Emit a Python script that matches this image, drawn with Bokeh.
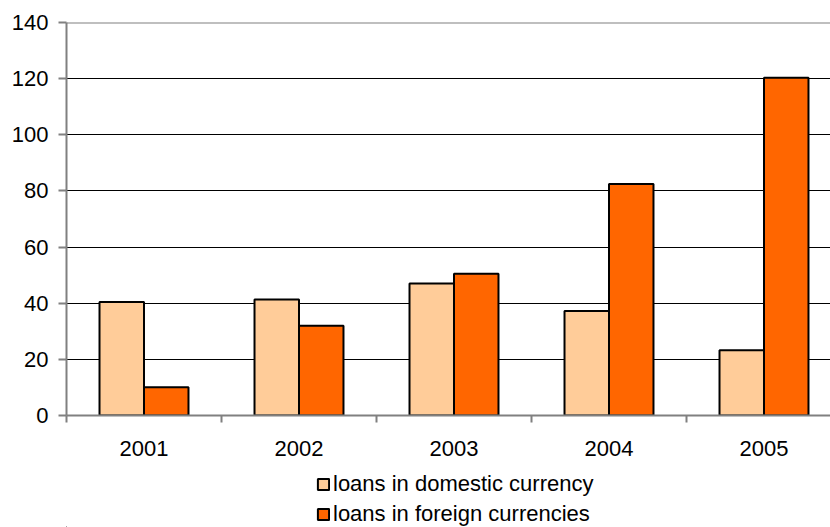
import numpy as np
from bokeh.plotting import figure
from bokeh.layouts import column
from bokeh.models import (ColumnDataSource, Range1d, FixedTicker, Legend, LegendItem, Span)
from bokeh.transform import dodge
from bokeh.embed import file_html
from bokeh.resources import INLINE

years = ["2001", "2002", "2003", "2004", "2005"]
domestic = [40.4, 41.3, 47.0, 37.2, 23.2]
foreign = [10.1, 32.0, 50.5, 82.5, 120.3]
y_ticks = [0, 20, 40, 60, 80, 100, 120, 140]
labels = ["loans in domestic currency", "loans in foreign currencies"]

FONT = "Liberation Sans"
FS = "22px"
C_DOM = "#FFCC99"
C_FOR = "#FF6600"

xs = list(range(1, len(years) + 1))
src = ColumnDataSource(dict(x=xs, domestic=domestic, foreign=foreign))

W = 830
H1 = 465
left, top, bottom = 66, 22, 50
cat_px = 155.0
frame_w = W - left
x_end = 0.5 + frame_w / cat_px

p = figure(width=W, height=H1, output_backend="svg", toolbar_location=None,
           x_range=Range1d(0.5, x_end), y_range=Range1d(0, 140),
           min_border_left=left, min_border_right=0, min_border_top=top,
           min_border_bottom=bottom)
p.outline_line_color = None
p.background_fill_color = "white"
p.border_fill_color = "white"

bw = 0.287
r1 = p.vbar(x=dodge("x", -bw / 2, range=p.x_range), top="domestic", width=bw, source=src,
            fill_color=C_DOM, line_color="black", line_width=2)
r2 = p.vbar(x=dodge("x", bw / 2, range=p.x_range), top="foreign", width=bw, source=src,
            fill_color=C_FOR, line_color="black", line_width=2)

# grid
p.xgrid.visible = False
p.ygrid.ticker = FixedTicker(ticks=y_ticks[1:-1])
p.ygrid.grid_line_color = "black"
p.ygrid.grid_line_width = 1
p.ygrid.level = "underlay"
p.add_layout(Span(location=y_ticks[-1], dimension="width", line_color="#808080",
                  line_width=2, level="underlay"))

# y axis
ya = p.yaxis[0]
ya.ticker = FixedTicker(ticks=y_ticks)
ya.axis_line_color = "#808080"
ya.axis_line_width = 2
ya.major_tick_line_color = "#808080"
ya.major_tick_line_width = 2
ya.major_tick_out = 8
ya.major_tick_in = 0
ya.minor_tick_line_color = None
ya.major_label_text_font = FONT
ya.major_label_text_font_size = FS
ya.major_label_text_color = "black"
ya.major_label_standoff = 10

# x axis
xa = p.xaxis[0]
xa.ticker = FixedTicker(ticks=xs, minor_ticks=[x - 0.5 for x in xs] + [xs[-1] + 0.5])
xa.major_label_overrides = {x: y for x, y in zip(xs, years)}
xa.axis_line_color = "#808080"
xa.axis_line_width = 2
xa.major_tick_out = 0
xa.major_tick_in = 0
xa.major_tick_line_color = None
xa.minor_tick_line_color = "#808080"
xa.minor_tick_line_width = 2
xa.minor_tick_out = 7
xa.minor_tick_in = 0
xa.major_label_text_font = FONT
xa.major_label_text_font_size = FS
xa.major_label_text_color = "black"
xa.major_label_standoff = 18

# legend figure (legend swatches reuse the bar styling; their data lies off-range)
p2 = figure(width=W, height=62, output_backend="svg", toolbar_location=None,
            x_range=Range1d(0, 1), y_range=Range1d(0, 1),
            x_axis_location=None, y_axis_location=None,
            min_border_left=0, min_border_right=0, min_border_top=0, min_border_bottom=0)
p2.grid.visible = False
p2.outline_line_color = None
dummy = ColumnDataSource(dict(x=[-10.0], top=[-10.0]))
l1 = p2.vbar(x="x", top="top", width=0.1, source=dummy, fill_color=C_DOM,
             line_color="black", line_width=2)
l2 = p2.vbar(x="x", top="top", width=0.1, source=dummy, fill_color=C_FOR,
             line_color="black", line_width=2)

legend = Legend(items=[LegendItem(label=labels[0], renderers=[l1]),
                       LegendItem(label=labels[1], renderers=[l2])],
                location=(250, 0))
legend.label_text_font = FONT
legend.label_text_font_size = FS
legend.label_text_color = "black"
legend.glyph_width = 14
legend.glyph_height = 14
legend.label_standoff = 3
legend.label_height = 24
legend.spacing = 4
legend.padding = 0
legend.margin = 0
legend.border_line_color = None
legend.background_fill_alpha = 0
p2.add_layout(legend, "center")

layout = column(p, p2, spacing=0)
open("out.html", "w").write(file_html(layout, INLINE))
